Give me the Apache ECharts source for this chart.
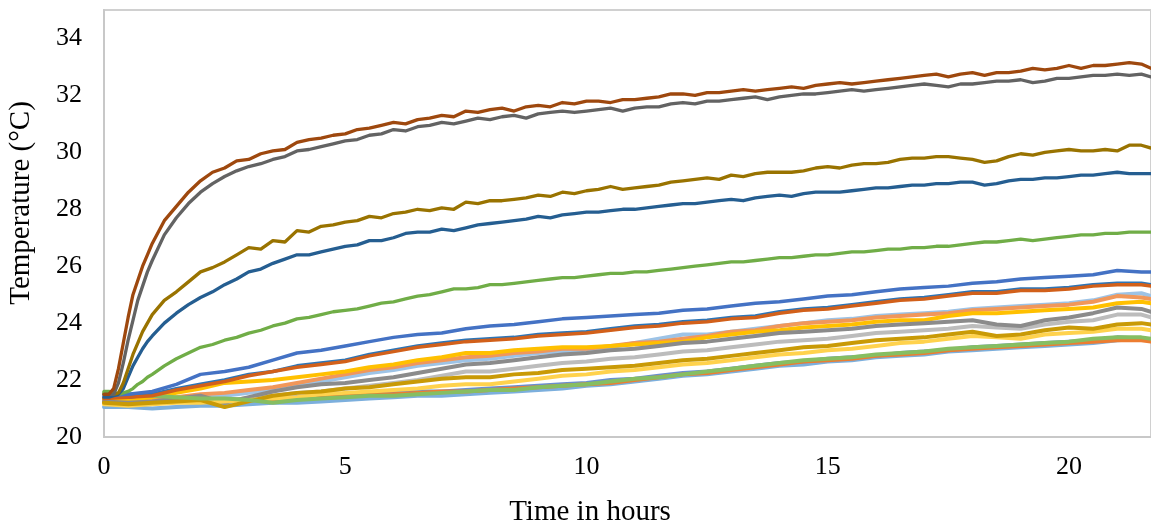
<!DOCTYPE html>
<html>
<head>
<meta charset="utf-8">
<script src="https://cdn.jsdelivr.net/npm/echarts@6/dist/echarts.min.js"></script>
<style>
html,body{margin:0;padding:0;background:#fff;}
#chart{width:1151px;height:526px;}
</style>
</head>
<body>
<div id="chart"></div>
<script>
// ---- Data ----
const xTitle = 'Time in hours';
const yTitle = 'Temperature (°C)';

// time stamps (hours) for the five upper curves
const timesTop = [0,0.1,0.2,0.3,0.4,0.5,0.6,0.7,0.8,0.9,1.0,1.25,1.5,1.75,
  2,2.25,2.5,2.75, 3,3.25,3.5,3.75, 4,4.25,4.5,4.75, 5,5.25,5.5,5.75,
  6,6.25,6.5,6.75, 7,7.25,7.5,7.75, 8,8.25,8.5,8.75, 9,9.25,9.5,9.75,
  10,10.25,10.5,10.75, 11,11.25,11.5,11.75, 12,12.25,12.5,12.75, 13,13.25,13.5,13.75,
  14,14.25,14.5,14.75, 15,15.25,15.5,15.75, 16,16.25,16.5,16.75, 17,17.25,17.5,17.75,
  18,18.25,18.5,18.75, 19,19.25,19.5,19.75, 20,20.25,20.5,20.75, 21,21.25,21.5, 21.7];
// time stamps (hours) for the lower cluster
const timesLow = [0,0.5,1,1.5,2,2.5,3,3.5,4,4.5,5,5.5,6,6.5,7,7.5,8,8.5,9,9.5,10,10.5,11,11.5,12,12.5,13,13.5,14,14.5,15,15.5,16,16.5,17,17.5,18,18.5,19,19.5,20,20.5,21,21.5,21.7];

const brownTop = [21.5,21.5,21.7,22.4,23.3,24.2,25.0,25.5,26.0,26.4,26.8,27.6,28.1,28.6,
  29.0,29.3,29.45,29.7, 29.75,29.95,30.05,30.1, 30.35,30.45,30.5,30.6, 30.65,30.8,30.85,30.95,
  31.05,31.0,31.15,31.2, 31.3,31.25,31.45,31.4, 31.5,31.55,31.45,31.6, 31.65,31.6,31.75,31.7,
  31.8,31.8,31.75,31.85, 31.85,31.9,31.95,32.05, 32.05,32.0,32.1,32.1, 32.15,32.2,32.15,32.2,
  32.25,32.3,32.25,32.35, 32.4,32.45,32.4,32.45, 32.5,32.55,32.6,32.65, 32.7,32.75,32.65,32.75,
  32.8,32.7,32.8,32.8, 32.85,32.95,32.9,32.95, 33.05,32.95,33.05,33.05, 33.1,33.15,33.1, 32.95];
const darkGrayTop = [21.5,21.5,21.5,21.9,22.6,23.4,24.1,24.8,25.3,25.8,26.2,27.1,27.7,28.2,
  28.6,28.9,29.15,29.35, 29.5,29.6,29.75,29.85, 30.05,30.1,30.2,30.3, 30.4,30.45,30.6,30.65,
  30.8,30.75,30.9,30.95, 31.05,31.0,31.1,31.2, 31.15,31.25,31.3,31.2, 31.35,31.4,31.45,31.4,
  31.45,31.5,31.55,31.45, 31.55,31.6,31.6,31.7, 31.75,31.7,31.8,31.8, 31.85,31.9,31.95,31.85,
  31.95,32.0,32.05,32.05, 32.1,32.15,32.2,32.15, 32.2,32.25,32.3,32.35, 32.4,32.35,32.3,32.4,
  32.4,32.45,32.5,32.5, 32.55,32.45,32.5,32.6, 32.6,32.65,32.7,32.7, 32.75,32.7,32.75, 32.65];
const oliveTop = [21.5,21.5,21.5,21.55,21.9,22.4,22.9,23.3,23.7,24.0,24.3,24.8,25.1,25.45,
  25.8,25.95,26.15,26.4, 26.65,26.6,26.9,26.85, 27.25,27.2,27.4,27.45, 27.55,27.6,27.75,27.7,
  27.85,27.9,28.0,27.95, 28.05,28.0,28.25,28.2, 28.3,28.3,28.35,28.4, 28.5,28.45,28.6,28.55,
  28.65,28.7,28.8,28.7, 28.75,28.8,28.85,28.95, 29.0,29.05,29.1,29.05, 29.2,29.15,29.25,29.3,
  29.3,29.3,29.35,29.45, 29.5,29.45,29.55,29.6, 29.6,29.65,29.75,29.8, 29.8,29.85,29.85,29.8,
  29.75,29.65,29.7,29.85, 29.95,29.9,30.0,30.05, 30.1,30.05,30.05,30.1, 30.05,30.25,30.25, 30.15];
const navyTop = [21.4,21.4,21.45,21.5,21.7,22.1,22.5,22.8,23.1,23.35,23.55,24.0,24.35,24.65,
  24.9,25.1,25.35,25.55, 25.8,25.9,26.1,26.25, 26.4,26.4,26.5,26.6, 26.7,26.75,26.9,26.9,
  27.0,27.15,27.2,27.2, 27.3,27.25,27.35,27.45, 27.5,27.55,27.6,27.65, 27.75,27.7,27.8,27.85,
  27.9,27.9,27.95,28.0, 28.0,28.05,28.1,28.15, 28.2,28.2,28.25,28.3, 28.35,28.3,28.4,28.45,
  28.5,28.45,28.55,28.6, 28.6,28.6,28.65,28.7, 28.75,28.75,28.8,28.85, 28.85,28.9,28.9,28.95,
  28.95,28.85,28.9,29.0, 29.05,29.05,29.1,29.1, 29.15,29.2,29.2,29.25, 29.3,29.25,29.25, 29.25];
const greenTop = [21.6,21.6,21.55,21.5,21.55,21.6,21.7,21.85,21.95,22.1,22.2,22.5,22.75,22.95,
  23.15,23.25,23.4,23.5, 23.65,23.75,23.9,24.0, 24.15,24.2,24.3,24.4, 24.45,24.5,24.6,24.7,
  24.75,24.85,24.95,25.0, 25.1,25.2,25.2,25.25, 25.35,25.35,25.4,25.45, 25.5,25.55,25.6,25.6,
  25.65,25.7,25.75,25.75, 25.8,25.8,25.85,25.9, 25.95,26.0,26.05,26.1, 26.15,26.15,26.2,26.25,
  26.3,26.3,26.35,26.4, 26.4,26.45,26.5,26.5, 26.55,26.6,26.6,26.65, 26.65,26.7,26.7,26.75,
  26.8,26.85,26.85,26.9, 26.95,26.9,26.95,27.0, 27.05,27.1,27.1,27.15, 27.15,27.2,27.2, 27.2];

const blueMid = [21.45,21.5,21.6,21.85,22.2,22.3,22.45,22.7,22.95,23.05,23.2,23.35,23.5,23.6,23.65,23.8,23.9,23.95,24.05,24.15,24.2,24.25,24.3,24.35,24.45,24.5,24.6,24.7,24.75,24.85,24.95,25.0,25.1,25.2,25.25,25.3,25.4,25.45,25.55,25.6,25.65,25.7,25.85,25.8,25.8];
const orangeMid = [21.35,21.4,21.45,21.65,21.8,21.95,22.15,22.3,22.45,22.55,22.65,22.85,23.0,23.15,23.25,23.35,23.4,23.45,23.55,23.6,23.65,23.75,23.85,23.9,24.0,24.05,24.15,24.2,24.35,24.45,24.5,24.6,24.7,24.8,24.85,24.95,25.05,25.05,25.15,25.15,25.2,25.3,25.35,25.35,25.3];
const steelMid = [21.4,21.4,21.5,21.7,21.85,22.0,22.2,22.3,22.5,22.6,22.7,22.9,23.05,23.2,23.3,23.4,23.45,23.5,23.6,23.65,23.7,23.8,23.9,23.95,24.05,24.1,24.2,24.25,24.4,24.5,24.55,24.65,24.75,24.85,24.9,25.0,25.1,25.1,25.2,25.2,25.25,25.35,25.4,25.4,25.35];

const goldLow = [21.35,21.3,21.4,21.55,21.7,21.9,21.95,22.0,22.1,22.2,22.3,22.45,22.55,22.7,22.8,22.95,22.95,23.05,23.1,23.15,23.15,23.2,23.25,23.3,23.35,23.5,23.6,23.7,23.75,23.85,23.9,23.95,24.05,24.1,24.1,24.25,24.35,24.35,24.4,24.45,24.5,24.55,24.7,24.75,24.7];
const peachLow = [21.3,21.25,21.3,21.4,21.5,21.55,21.65,21.75,21.9,22.05,22.2,22.35,22.45,22.6,22.7,22.8,22.85,22.95,23.0,23.1,23.1,23.2,23.3,23.35,23.45,23.55,23.7,23.75,23.9,24.0,24.05,24.1,24.2,24.25,24.3,24.35,24.45,24.5,24.55,24.6,24.65,24.75,24.95,24.9,24.85];
const grayLow = [21.25,21.2,21.25,21.35,21.45,21.2,21.4,21.6,21.75,21.85,21.9,22.0,22.1,22.25,22.4,22.55,22.6,22.7,22.8,22.9,22.95,23.05,23.1,23.2,23.3,23.35,23.45,23.55,23.65,23.7,23.75,23.8,23.9,23.95,24.0,24.05,24.1,23.95,23.9,24.1,24.2,24.35,24.55,24.5,24.4];
const silverLow = [21.2,21.15,21.2,21.25,21.3,21.3,21.35,21.45,21.55,21.6,21.7,21.8,21.9,22.0,22.15,22.3,22.3,22.4,22.5,22.6,22.65,22.75,22.8,22.9,23.0,23.05,23.15,23.25,23.35,23.4,23.45,23.55,23.65,23.7,23.75,23.8,23.9,23.85,23.8,23.95,24.05,24.1,24.3,24.3,24.2];
const mustardLow = [21.2,21.15,21.2,21.25,21.3,21.05,21.25,21.45,21.55,21.6,21.7,21.75,21.85,21.95,22.05,22.1,22.1,22.2,22.25,22.35,22.4,22.45,22.5,22.6,22.7,22.75,22.85,22.95,23.05,23.15,23.2,23.3,23.4,23.45,23.5,23.6,23.7,23.55,23.6,23.75,23.85,23.8,23.95,24.0,23.95];
const yellowLow = [21.15,21.1,21.15,21.2,21.2,21.25,21.3,21.35,21.4,21.5,21.55,21.6,21.65,21.7,21.8,21.85,21.85,21.95,22.05,22.15,22.2,22.3,22.35,22.45,22.55,22.6,22.7,22.8,22.9,22.95,23.05,23.1,23.2,23.3,23.35,23.45,23.55,23.5,23.45,23.6,23.65,23.7,23.8,23.8,23.75];
const limeLow = [21.55,21.5,21.45,21.4,21.35,21.35,21.3,21.2,21.3,21.35,21.4,21.45,21.45,21.5,21.55,21.6,21.65,21.65,21.75,21.8,21.85,21.95,22.05,22.1,22.2,22.3,22.4,22.5,22.6,22.7,22.75,22.8,22.9,22.95,23.0,23.1,23.15,23.2,23.25,23.3,23.35,23.45,23.5,23.5,23.45];
const orangeLow = [21.3,21.25,21.3,21.3,21.25,21.3,21.35,21.3,21.35,21.4,21.45,21.5,21.5,21.55,21.6,21.6,21.65,21.7,21.75,21.8,21.85,21.9,22.0,22.1,22.2,22.25,22.35,22.45,22.55,22.65,22.7,22.75,22.85,22.9,22.95,23.05,23.1,23.15,23.2,23.25,23.3,23.35,23.4,23.4,23.35];
const cornLow = [21.25,21.2,21.25,21.3,21.3,21.35,21.3,21.35,21.4,21.45,21.45,21.5,21.55,21.6,21.6,21.65,21.7,21.75,21.8,21.85,21.9,22.0,22.05,22.15,22.25,22.3,22.4,22.5,22.6,22.65,22.75,22.8,22.85,22.95,23.0,23.05,23.15,23.2,23.25,23.3,23.35,23.4,23.5,23.45,23.4];
const skyLow = [21.05,21.05,21.0,21.05,21.1,21.1,21.15,21.2,21.2,21.25,21.3,21.35,21.4,21.45,21.45,21.5,21.55,21.6,21.65,21.7,21.8,21.85,21.95,22.05,22.15,22.2,22.3,22.4,22.5,22.55,22.65,22.7,22.8,22.85,22.9,23.0,23.05,23.1,23.15,23.2,23.25,23.3,23.4,23.45,23.4];
const paleLow = [21.2,21.2,21.25,21.3,21.4,21.45,21.55,21.65,21.8,21.95,22.1,22.25,22.35,22.5,22.6,22.7,22.75,22.85,22.95,23.0,23.05,23.15,23.3,23.45,23.6,23.6,23.7,23.8,23.9,24.0,24.1,24.15,24.25,24.3,24.35,24.4,24.5,24.55,24.6,24.65,24.7,24.8,25.0,25.05,24.95];

const xTicks = {min: 0, max: 21.7, interval: 5};
const yTicks = {min: 20, max: 35, interval: 2};

// ---- Chart ----
function pairs(ts, vs){ return ts.map((t,i)=>[t, vs[i]]); }
const FONT = '"Liberation Serif", "Times New Roman", serif';

const seriesDefs = [
  // lower cluster (drawn first)
  {d: pairs(timesLow, skyLow), c: '#7CAFDD', w: 4},
  {d: pairs(timesLow, cornLow), c: '#698ED0', w: 4},
  {d: pairs(timesLow, orangeLow), c: '#ED7D31', w: 4},
  {d: pairs(timesLow, paleLow), c: '#9DC3E6', w: 4},
  {d: pairs(timesLow, peachLow), c: '#F1975A', w: 4},
  {d: pairs(timesLow, goldLow), c: '#FFC000', w: 4},
  {d: pairs(timesLow, silverLow), c: '#BCBCBC', w: 4},
  {d: pairs(timesLow, grayLow), c: '#8B8B8B', w: 4},
  {d: pairs(timesLow, yellowLow), c: '#FFD24D', w: 4},
  {d: pairs(timesLow, mustardLow), c: '#C99A06', w: 4},
  {d: pairs(timesLow, limeLow), c: '#86BE62', w: 4},
  {d: pairs(timesLow, steelMid), c: '#2E75B6', w: 3.5},
  {d: pairs(timesLow, orangeMid), c: '#D2601A', w: 3.5},
  {d: pairs(timesLow, blueMid), c: '#4472C4', w: 3.5},
  // upper curves
  {d: pairs(timesTop, greenTop), c: '#70AD47', w: 3.3},
  {d: pairs(timesTop, navyTop), c: '#255E91', w: 3.3},
  {d: pairs(timesTop, oliveTop), c: '#997300', w: 3.3},
  {d: pairs(timesTop, darkGrayTop), c: '#636363', w: 3.3},
  {d: pairs(timesTop, brownTop), c: '#9E480E', w: 3.3}
];

const chart = echarts.init(document.getElementById('chart'), null, {renderer: 'canvas'});
chart.setOption({
  animation: false,
  backgroundColor: '#fff',
  grid: {left: 104, right: -3, top: 10, bottom: 89, show: true, borderColor: '#D0D0D0', borderWidth: 2, containLabel: false},
  xAxis: {
    type: 'value', min: xTicks.min, max: xTicks.max, interval: xTicks.interval,
    axisLine: {show: true, lineStyle: {color: '#C8C8C8', width: 2}},
    axisTick: {show: false}, splitLine: {show: false},
    axisLabel: {fontFamily: FONT, fontSize: 26, color: '#000', margin: 17, showMaxLabel: false}
  },
  yAxis: {
    type: 'value', min: yTicks.min, max: yTicks.max, interval: yTicks.interval,
    axisLine: {show: true, lineStyle: {color: '#C8C8C8', width: 2}},
    axisTick: {show: false}, splitLine: {show: false},
    axisLabel: {fontFamily: FONT, fontSize: 26, color: '#000', margin: 22, showMaxLabel: false}
  },
  graphic: [
    {type: 'text', x: 590, y: 512, style: {text: xTitle, font: '29px ' + FONT, fill: '#000', textAlign: 'center', textVerticalAlign: 'middle'}},
    {type: 'text', x: 21, y: 203, rotation: Math.PI / 2, style: {text: yTitle, font: '29px ' + FONT, fill: '#000', textAlign: 'center', textVerticalAlign: 'middle'}}
  ],
  series: seriesDefs.map(s => ({
    type: 'line', data: s.d, showSymbol: false, symbol: 'none', smooth: false,
    lineStyle: {color: s.c, width: s.w, cap: 'round', join: 'round'},
    itemStyle: {color: s.c}, emphasis: {disabled: true}, silent: true
  }))
});
</script>
</body>
</html>
